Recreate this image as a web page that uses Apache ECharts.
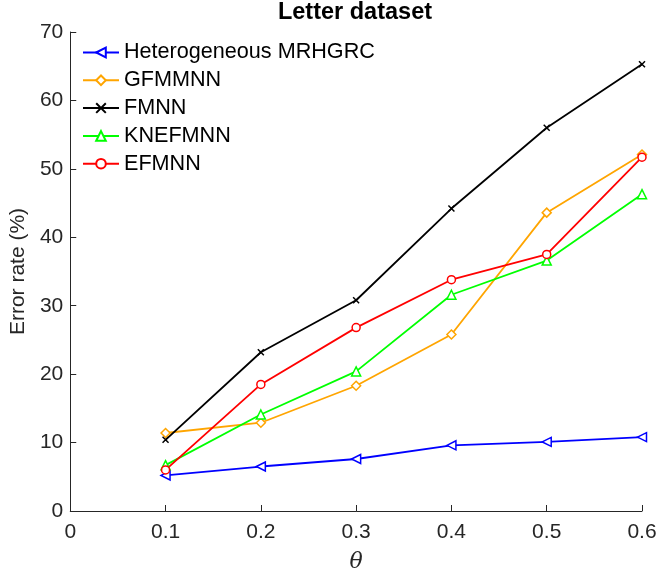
<!DOCTYPE html>
<html><head><meta charset="utf-8">
<script src="https://cdn.jsdelivr.net/npm/echarts@6/dist/echarts.min.js"></script>
<style>html,body{margin:0;padding:0;background:#fff}#c{width:664px;height:578px}</style>
</head><body><div id="c"></div>
<script>
var thetas = [0.1, 0.2, 0.3, 0.4, 0.5, 0.6];
var seriesNames = ['Heterogeneous MRHGRC', 'GFMMNN', 'FMNN', 'KNEFMNN', 'EFMNN'];
var mrhgrc = [5.2, 6.5, 7.6, 9.6, 10.1, 10.8];
var gfmmnn = [11.4, 12.9, 18.3, 25.8, 43.6, 52.1];
var fmnn = [10.4, 23.2, 30.8, 44.2, 56.0, 65.3];
var knefmnn = [6.7, 14.1, 20.4, 31.6, 36.6, 46.3];
var efmnn = [6.0, 18.5, 26.8, 33.8, 37.5, 51.7];
var yTicks = [0, 10, 20, 30, 40, 50, 60, 70];

var colors = ['#0000ff', '#ffa500', '#000000', '#00ff00', '#ff0000'];
var symbols = ['triangle', 'diamond', 'path://M0,0L10,10M10,0L0,10', 'triangle', 'circle'];
var rotates = [90, 0, 0, 0, 0];
var sizes = [9, 9, 6, 9, 8];
var dataSets = [mrhgrc, gfmmnn, fmnn, knefmnn, efmnn];

function pairs(arr) { return thetas.map(function (t, i) { return [t, arr[i]]; }); }

var series = dataSets.map(function (d, i) {
  return {
    name: seriesNames[i],
    type: 'line',
    data: pairs(d),
    symbol: symbols[i],
    symbolRotate: rotates[i],
    symbolSize: sizes[i],
    showAllSymbol: true,
    lineStyle: { color: colors[i], width: 1.8 },
    itemStyle: { color: i === 2 ? colors[i] : '#ffffff', borderColor: colors[i], borderWidth: 1.5 },
    emphasis: { disabled: true },
    animation: false
  };
});

var chart = echarts.init(document.getElementById('c'), null, { renderer: 'canvas' });
chart.setOption({
  animation: false,
  title: {
    text: 'Letter dataset', left: 355, top: 1, textAlign: 'center', padding: 0,
    textStyle: { fontFamily: 'Liberation Sans', fontSize: 23.5, fontWeight: 'bold', color: '#000' }
  },
  legend: {
    data: seriesNames, orient: 'vertical', left: 77, top: 36.5,
    itemWidth: 36, itemHeight: 12, itemGap: 5.8,
    textStyle: { fontFamily: 'Liberation Sans', fontSize: 21.6, lineHeight: 21.5, color: '#000' },
    selectedMode: false
  },
  grid: { left: 68, right: 22, top: 32, bottom: 66, containLabel: false },
  xAxis: {
    type: 'value', min: 0, max: 0.6, interval: 0.1,
    name: 'θ', nameLocation: 'middle', nameGap: 40,
    nameTextStyle: { fontFamily: 'DejaVu Serif', fontStyle: 'italic', fontSize: 22, color: '#262626' },
    axisLine: { show: true, lineStyle: { color: '#262626', width: 1 } },
    axisTick: { show: true, inside: true, length: 6, lineStyle: { color: '#262626' } },
    axisLabel: {
      fontFamily: 'Liberation Sans', fontSize: 21, color: '#262626', margin: 11,
      formatter: function (v) { return String(Math.round(v * 10) / 10); }
    },
    splitLine: { show: false }
  },
  yAxis: {
    type: 'value', min: 0, max: 70, interval: 10,
    name: 'Error rate (%)', nameLocation: 'middle', nameGap: 40, nameRotate: 90,
    nameTextStyle: { fontFamily: 'Liberation Sans', fontSize: 21, color: '#262626' },
    axisLine: { show: true, lineStyle: { color: '#262626', width: 1 } },
    axisTick: { show: true, inside: true, length: 6, lineStyle: { color: '#262626' } },
    axisLabel: {
      fontFamily: 'Liberation Sans', fontSize: 21, color: '#262626', margin: 7,
      formatter: function (v) { return yTicks.indexOf(v) >= 0 ? String(v) : ''; }
    },
    splitLine: { show: false }
  },
  series: series
});
</script>
</body></html>
